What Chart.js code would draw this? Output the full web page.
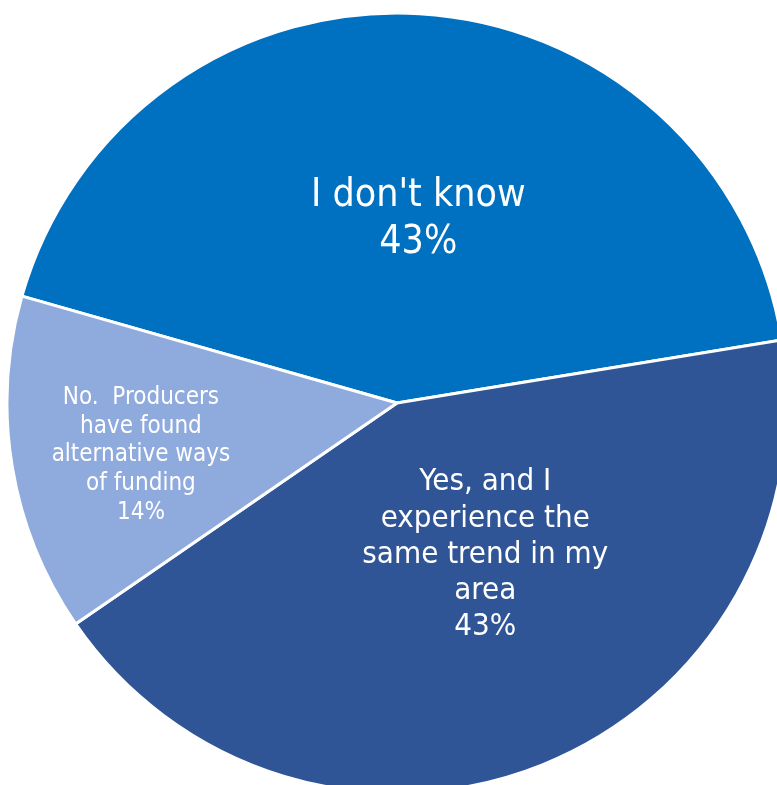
<!DOCTYPE html>
<html>
<head>
<meta charset="utf-8">
<script src="https://cdn.jsdelivr.net/npm/chart.js@4"></script>
<style>
  html, body { margin: 0; padding: 0; background: #fff; overflow: hidden; }
  #wrap { width: 777px; height: 785px; }
</style>
</head>
<body>
<div id="wrap"><canvas id="pie"></canvas></div>
<script>
// categories and shares (percent)
const categories = [
  "I don't know",
  'Yes, and I experience the same trend in my area',
  'No.  Producers have found alternative ways of funding'
];
const shares = [43, 43, 14];
const sliceColors = ['#0070C0', '#2F5597', '#8FAADC'];

// line breaks for the labels inside the slices
const labelLines = [
  ["I don't know"],
  ['Yes, and I', 'experience the', 'same trend in my', 'area'],
  ['No.  Producers', 'have found', 'alternative ways', 'of funding']
];

// per-slice label placement: fraction of radius, angle nudge (deg), font size, line height
const labelStyle = [
  { r: 0.475, nudge: 3.3, size: 39, lh: 47 },
  { r: 0.45, nudge: -8.3, size: 31, lh: 36.2 },
  { r: 0.67, nudge: -2.2, size: 24, lh: 28.8 }
];

const sliceLabels = {
  id: 'sliceLabels',
  afterDatasetsDraw(chart) {
    const ctx = chart.ctx;
    const meta = chart.getDatasetMeta(0);
    meta.data.forEach((arc, i) => {
      const st = labelStyle[i];
      const mid = (arc.startAngle + arc.endAngle) / 2 + st.nudge * Math.PI / 180;
      const rr = arc.outerRadius * st.r;
      const cx = arc.x + Math.cos(mid) * rr;
      const cy = arc.y + Math.sin(mid) * rr;
      const lines = labelLines[i].concat([Math.round(shares[i]) + '%']);
      ctx.save();
      ctx.fillStyle = '#ffffff';
      ctx.font = st.size + 'px "DejaVu Sans Condensed", "DejaVu Sans", sans-serif';
      ctx.textAlign = 'center';
      ctx.textBaseline = 'middle';
      const top = cy - (lines.length - 1) * st.lh / 2;
      lines.forEach((ln, k) => ctx.fillText(ln, cx, top + k * st.lh));
      ctx.restore();
    });
  }
};

new Chart(document.getElementById('pie'), {
  type: 'pie',
  data: {
    labels: categories,
    datasets: [{
      data: shares,
      backgroundColor: sliceColors,
      borderColor: '#ffffff',
      borderWidth: 3,
      clip: false
    }]
  },
  options: {
    responsive: true,
    maintainAspectRatio: false,
    animation: false,
    rotation: -74.1,
    radius: 390,
    layout: { padding: { left: 17, top: 21, right: 0, bottom: 0 } },
    plugins: {
      legend: { display: false },
      tooltip: { enabled: false }
    }
  },
  plugins: [sliceLabels]
});
</script>
</body>
</html>
